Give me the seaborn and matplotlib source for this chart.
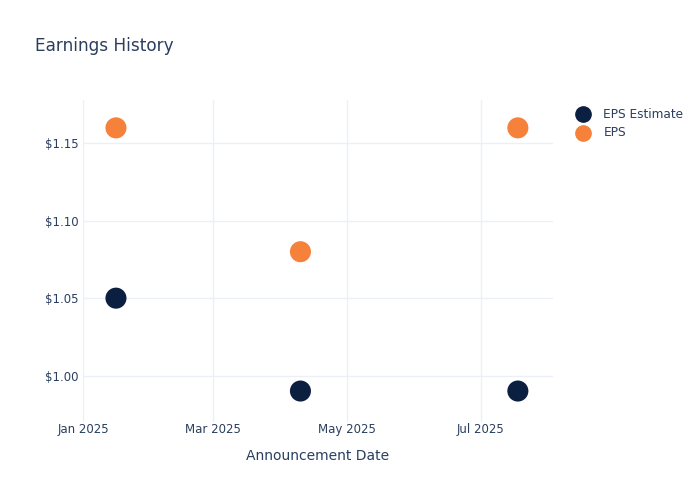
import numpy as np
import pandas as pd
import matplotlib.pyplot as plt
import matplotlib.dates as mdates
import matplotlib.ticker as mticker
import seaborn as sns

# data
dates = ['2025-01-16', '2025-04-10', '2025-07-18']
eps_estimate = [1.05, 0.99, 0.99]
eps_actual = [1.16, 1.08, 1.16]

df = pd.DataFrame({
    'date': pd.to_datetime(dates * 2),
    'value': eps_estimate + eps_actual,
    'series': ['EPS Estimate'] * 3 + ['EPS'] * 3,
})

text_col = '#2a3f5f'
grid_col = '#ebf0f8'

sns.set_theme(style='white')
plt.rcParams['font.family'] = ['DejaVu Sans']

fig = plt.figure(figsize=(7, 5), dpi=100)
ax = fig.add_axes([0.1186, 0.156, 0.6714, 0.644])

sns.scatterplot(data=df, x='date', y='value', hue='series',
                palette={'EPS Estimate': '#0b1f40', 'EPS': '#f5813a'},
                s=230, linewidth=0, ax=ax, legend=False, zorder=3)

ax.set_xlim(pd.Timestamp('2025-01-01'), pd.Timestamp('2025-08-03'))
ax.set_ylim(0.970, 1.178)

ax.xaxis.set_major_locator(mdates.MonthLocator(bymonth=[1, 3, 5, 7]))
ax.xaxis.set_major_formatter(mdates.DateFormatter('%b %Y'))
ax.yaxis.set_major_locator(mticker.MultipleLocator(0.05))
ax.yaxis.set_major_formatter(mticker.FuncFormatter(lambda v, p: f'${v:.2f}'))

ax.grid(True, color=grid_col, linewidth=1)
ax.set_axisbelow(True)
for sp in ax.spines.values():
    sp.set_visible(False)
ax.tick_params(axis='both', length=0, labelsize=8.5, colors=text_col)
ax.tick_params(axis='x', pad=1)
ax.tick_params(axis='y', pad=3)

ax.set_xlabel('Announcement Date', fontsize=10, color=text_col, labelpad=9)
ax.set_ylabel('')

fig.text(0.05, 0.898, 'Earnings History', fontsize=12.2, color=text_col)

# legend
for i, (lab, col) in enumerate([('EPS Estimate', '#0b1f40'), ('EPS', '#f5813a')]):
    y = 0.772 - i * 0.038
    fig.lines.append(plt.Line2D([0.833], [y], marker='o', markersize=11,
                                color=col, linestyle='', transform=fig.transFigure))
    fig.text(0.862, y, lab, fontsize=8.7, color=text_col, va='center')

fig.savefig('out.png', dpi=100)
